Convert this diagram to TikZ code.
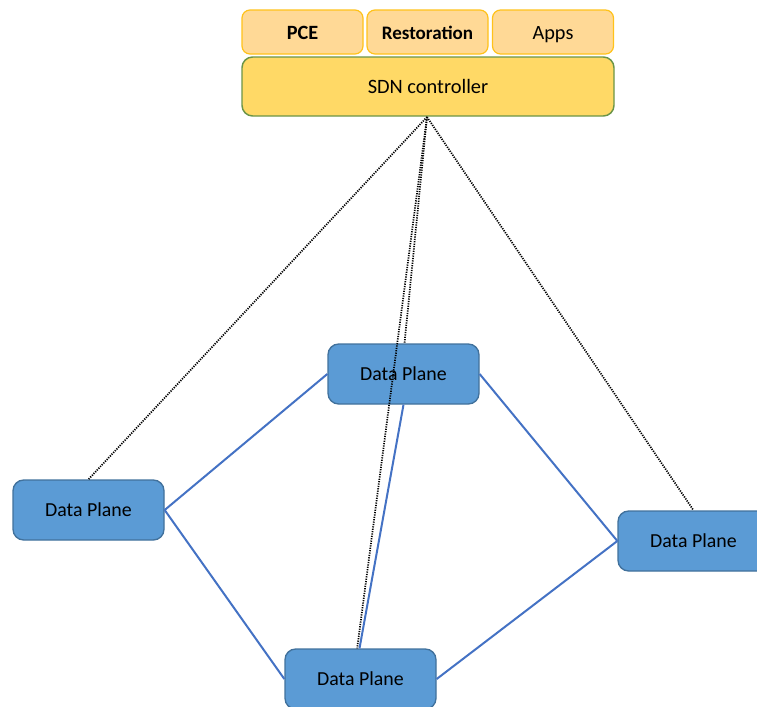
\documentclass[tikz,border=0pt]{standalone}
\usepackage{fontspec}
\setmainfont{Carlito}
\begin{document}
\begin{tikzpicture}[x=0.75pt,y=-0.75pt,
  appbox/.style={draw=appborder, fill=appfill, line width=0.9pt, rounded corners=6pt,
    minimum width=121*0.75pt, minimum height=44*0.75pt, inner sep=0pt,
    text height=11.2pt, text depth=0pt, font=\fontsize{15.2}{17}\selectfont},
  ctrlbox/.style={draw=ctrlborder, fill=ctrlfill, line width=1.1pt, rounded corners=8pt,
    minimum width=372*0.75pt, minimum height=59*0.75pt, inner sep=0pt,
    text height=11pt, text depth=0pt, font=\fontsize{15.3}{17}\selectfont},
  dpbox/.style={draw=dpborder, fill=dpfill, line width=1pt, rounded corners=8pt,
    minimum width=151*0.75pt, minimum height=60*0.75pt, inner sep=0pt, font=\fontsize{14.9}{17}\selectfont},
  dplabel/.style={font=\fontsize{14.9}{17}\selectfont},
  link/.style={draw=linkblue, line width=1.5pt},
  ctrllink/.style={draw=black, line width=1.3pt, dash pattern=on 0.9pt off 0.9pt}
]
\definecolor{appfill}{HTML}{FFD996}
\definecolor{appborder}{HTML}{FFC21A}
\definecolor{ctrlfill}{HTML}{FFD966}
\definecolor{ctrlborder}{HTML}{6A9447}
\definecolor{dpfill}{HTML}{5B9BD5}
\definecolor{dpborder}{HTML}{41719C}
\definecolor{linkblue}{HTML}{4472C4}

\useasboundingbox (0,0) rectangle (757,707);
\clip (0,0) rectangle (757,707);

% controller stack
\node[appbox] (pce) at (302.5,32) {\textbf{PCE}};
\node[appbox] (rest) at (427.5,32) {\fontsize{14.3}{17}\selectfont\textbf{Restoration}};
\node[appbox] (apps) at (553,32) {Apps};
\node[ctrlbox] (sdn) at (428,86.5) {SDN controller};
\coordinate (apex) at (427,117);

% data plane nodes
\node[dpbox] (dptop) at (403.5,374) {};
\node[dpbox] (dpleft) at (88.5,510) {Data Plane};
\node[dpbox] (dpright) at (693.5,541) {};
\node[dpbox] (dpbottom) at (360.5,679) {};

% physical links
\draw[link] (dpleft.east) -- (dptop.west);
\draw[link] (dpleft.east) -- (dpbottom.west);
\draw[link] (dptop.east) -- (dpright.west);
\draw[link] (dpright.west) -- (dpbottom.east);
\draw[link] (dptop.south) -- ([xshift=-0.75pt]dpbottom.north);

% node labels on top of the links
\node[dplabel] at (dptop) {Data Plane};
\node[dplabel] at (dpright) {Data Plane};
\node[dplabel] at (dpbottom) {Data Plane};

% control channels
\draw[ctrllink] (apex) -- (dpleft.north);
\draw[ctrllink] (apex) -- ([xshift=0.75pt]dptop.north);
\draw[ctrllink] (apex) -- ([xshift=-2.5pt]dpbottom.north);
\draw[ctrllink] (apex) -- (dpright.north);
\end{tikzpicture}
\end{document}
